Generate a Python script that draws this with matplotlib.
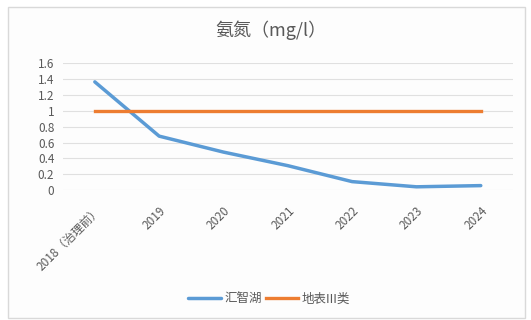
import matplotlib
matplotlib.use("Agg")
import matplotlib.pyplot as plt
from matplotlib.patches import Rectangle

plt.rcParams['font.family'] = ['Noto Sans CJK SC', 'DejaVu Sans']

categories = ["2018（治理前）", "2019", "2020", "2021", "2022", "2023", "2024"]
huizhi = [1.36, 0.68, 0.48, 0.31, 0.11, 0.045, 0.06]
standard = [1, 1, 1, 1, 1, 1, 1]
yticks = [0, 0.2, 0.4, 0.6, 0.8, 1, 1.2, 1.4, 1.6]
ytick_labels = ["0", "0.2", "0.4", "0.6", "0.8", "1", "1.2", "1.4", "1.6"]

fig = plt.figure(figsize=(5.31, 3.2), dpi=100)
fig.patch.set_facecolor("white")
fig.patches.append(Rectangle((8/531, 2/320), 517/531, 311/320, transform=fig.transFigure,
                             facecolor="#fdfdfd", edgecolor="#d9d9d9", linewidth=1,
                             zorder=-10))

ax = fig.add_axes([0.118, 0.405, 0.848, 0.399])
ax.set_zorder(2)
ax.set_facecolor("none")
x = list(range(len(categories)))
ax.plot(x, huizhi, color="#5B9BD5", linewidth=2.5, label="汇智湖", solid_capstyle="round")
ax.plot(x, standard, color="#ED7D31", linewidth=2.4, label="地表III类")
ax.set_xlim(-0.5, len(categories) - 0.5)
ax.set_ylim(0, 1.6)
ax.set_yticks(yticks)
ax.set_yticklabels(ytick_labels)
ax.set_xticks(x)
ax.set_xticklabels(categories, rotation=45, ha="right", va="top", rotation_mode="anchor")
ax.grid(axis="y", color="#e0e0e0", linewidth=0.8)
ax.set_axisbelow(True)
for s in ax.spines.values():
    s.set_visible(False)
ax.tick_params(axis="both", length=0, labelsize=8.5, colors="#595959", pad=6)
ax.tick_params(axis="x", pad=10)

fig.text(0.51, 0.905, "氨氮（mg/l）", ha="center", va="center", fontsize=13, color="#595959")
fig.legend(loc="center", bbox_to_anchor=(0.507, 0.065), ncol=2, frameon=False,
           fontsize=9, handlelength=2.6, handletextpad=0.3, columnspacing=0.3,
           labelcolor="#595959")

fig.savefig("out.png", dpi=100, facecolor="white")
